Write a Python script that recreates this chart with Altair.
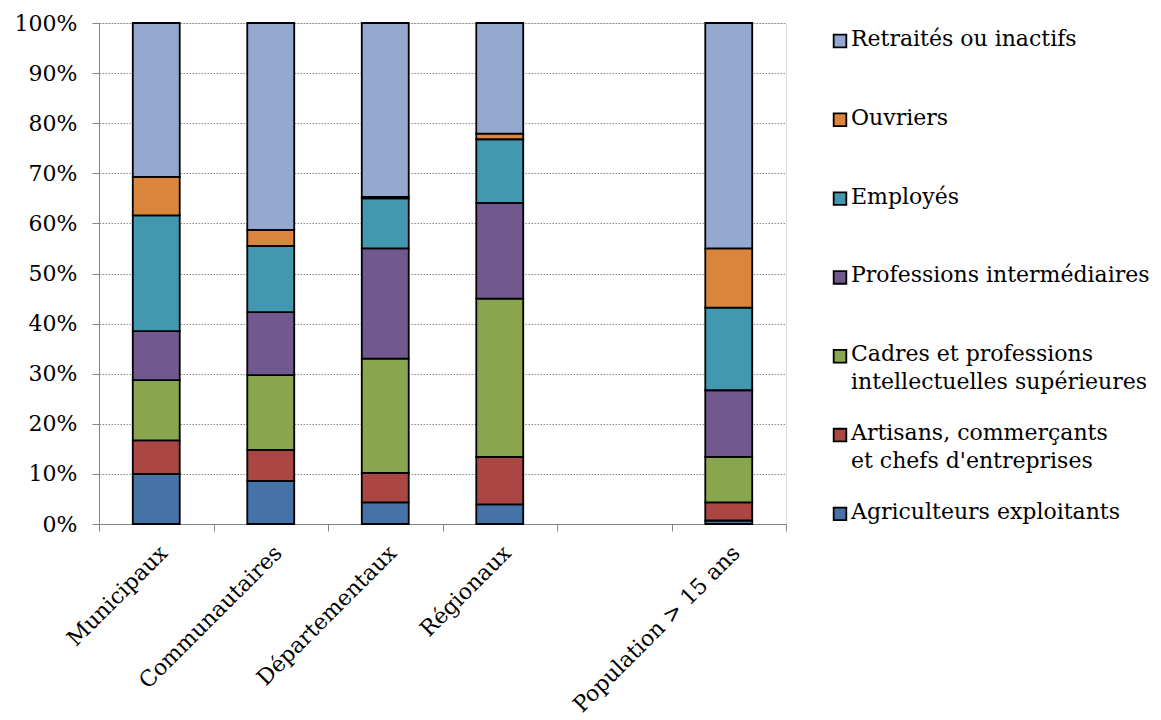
import altair as alt
import pandas as pd

groups = ["Municipaux", "Communautaires", "Départementaux", "Régionaux", " ", "Population > 15 ans"]
bar_groups = ["Municipaux", "Communautaires", "Départementaux", "Régionaux", "Population > 15 ans"]
categories = [
    "Agriculteurs exploitants",
    "Artisans, commerçants et chefs d'entreprises",
    "Cadres et professions intellectuelles supérieures",
    "Professions intermédiaires",
    "Employés",
    "Ouvriers",
    "Retraités ou inactifs",
]
legend_labels = [
    "Agriculteurs exploitants",
    "Artisans, commerçants\net chefs d'entreprises",
    "Cadres et professions\nintellectuelles supérieures",
    "Professions intermédiaires",
    "Employés",
    "Ouvriers",
    "Retraités ou inactifs",
]
colors = ["#4572A7", "#AA4643", "#89A54E", "#71588F", "#4198AF", "#DB843D", "#95A9D0"]

municipaux = [10.0, 6.7, 12.0, 9.8, 23.1, 7.7, 30.7]
communautaires = [8.6, 6.2, 14.9, 12.6, 13.2, 3.2, 41.3]
departementaux = [4.3, 5.9, 22.8, 22.0, 10.0, 0.3, 34.7]
regionaux = [3.9, 9.5, 31.6, 19.1, 12.7, 1.1, 22.1]
population = [0.7, 3.6, 9.1, 13.3, 16.5, 11.8, 45.0]

series = [municipaux, communautaires, departementaux, regionaux, population]

rows = []
for g, vals in zip(bar_groups, series):
    for i, (c, v) in enumerate(zip(categories, vals)):
        rows.append({"groupe": g, "categorie": c, "valeur": v, "ordre": i})
df = pd.DataFrame(rows)

FONT = "DejaVu Serif"

color_scale = alt.Scale(domain=categories, range=colors)

bars = alt.Chart(df).mark_bar(
    width=alt.RelativeBandSize(0.41), stroke="black", strokeWidth=1.8
).encode(
    x=alt.X(
        "groupe:N",
        sort=groups,
        scale=alt.Scale(domain=groups, paddingInner=0, paddingOuter=0),
        axis=alt.Axis(
            title=None,
            labelAngle=-45,
            labelFont=FONT,
            labelFontSize=22,
            labelColor="black",
            labelLimit=400,
            tickBand="extent",
            tickSize=7,
            tickColor="#868686",
            domainColor="#868686",
            labelPadding=11,
            grid=False,
        ),
    ),
    y=alt.Y(
        "valeur:Q",
        stack="normalize",
        scale=alt.Scale(domain=[0, 1], nice=False),
        axis=alt.Axis(
            title=None,
            format=".0%",
            values=[i / 10 for i in range(11)],
            labelFont=FONT,
            labelFontSize=22,
            labelColor="black",
            tickSize=7,
            tickColor="#868686",
            domainColor="#868686",
            labelPadding=15,
            grid=True,
            gridColor="#8a8a8a",
            gridDash=[1.5, 1.5],
            gridWidth=1,
        ),
    ),
    color=alt.Color("categorie:N", scale=color_scale, legend=None),
    order=alt.Order("ordre:Q", sort="ascending"),
).properties(width=687, height=501)

leg_df = pd.DataFrame({
    "categorie": categories,
    "label": legend_labels,
})

leg_y = alt.Y(
    "categorie:N",
    sort=list(reversed(categories)),
    scale=alt.Scale(domain=list(reversed(categories)), padding=0.178, align=0.64),
    axis=None,
)

leg_sq = alt.Chart(leg_df).mark_square(size=160, stroke="black", strokeWidth=1.8, opacity=1).encode(
    x=alt.value(0),
    y=leg_y,
    color=alt.Color("categorie:N", scale=color_scale, legend=None),
)
leg_tx = alt.Chart(leg_df).mark_text(
    align="left", baseline="top", dy=-12, font=FONT, fontSize=22, color="black", lineBreak="\n", lineHeight=28
).encode(
    x=alt.value(11),
    y=leg_y,
    text="label:N",
)
legend = alt.layer(leg_sq, leg_tx).properties(
    width=300, height=501, view=alt.ViewBackground(stroke="transparent", strokeWidth=0)
)

chart = alt.hconcat(bars, legend, spacing=43).configure_view(stroke="transparent", strokeWidth=0).configure(
    padding={"left": 5, "top": 3, "right": 0, "bottom": 0}
)

chart.save("out.html", embed_options={"renderer": "svg", "actions": False})
